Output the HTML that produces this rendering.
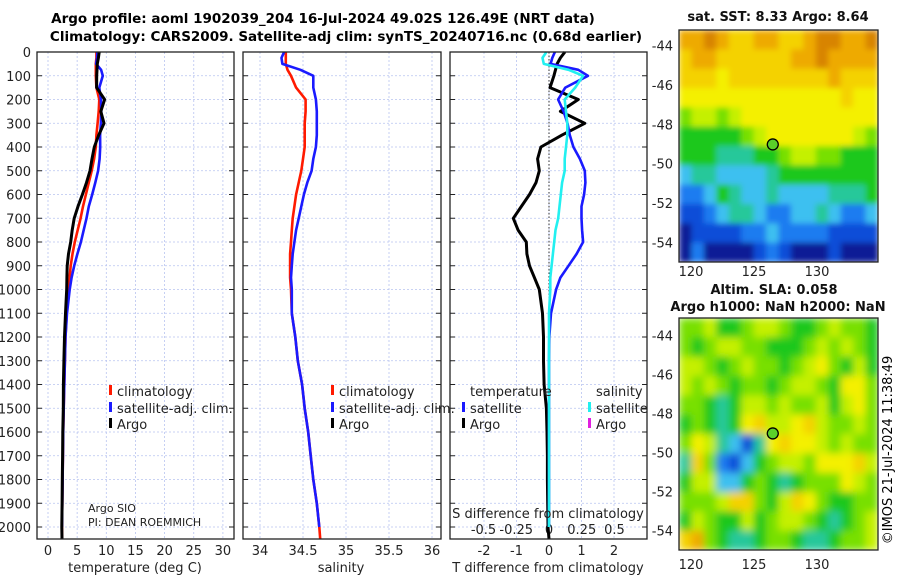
<!DOCTYPE html>
<html><head><meta charset="utf-8"><style>
html,body{margin:0;padding:0;background:#fff;}
svg{display:block;font-family:"DejaVu Sans","Liberation Sans",sans-serif;}
</style></head><body>
<svg id="fig" width="900" height="580" viewBox="0 0 900 580" xmlns="http://www.w3.org/2000/svg">
<defs>
<filter id="blur2" x="0" y="0" width="1" height="1"><feGaussianBlur stdDeviation="4" edgeMode="duplicate"/></filter>
<filter id="blur1" x="0" y="0" width="1" height="1"><feGaussianBlur stdDeviation="3" edgeMode="duplicate"/></filter>
<clipPath id="cm1"><rect x="679" y="30" width="199" height="232"/></clipPath>
<clipPath id="cm2"><rect x="679" y="318" width="199" height="232"/></clipPath>
</defs>
<text x="323" y="23" text-anchor="middle" font-size="13.5" font-weight="bold">Argo profile: aoml 1902039_204 16-Jul-2024 49.02S 126.49E (NRT data)</text>
<text x="346" y="41" text-anchor="middle" font-size="13.5" font-weight="bold">Climatology: CARS2009. Satellite-adj clim: synTS_20240716.nc (0.68d earlier)</text>
<g id="plots"></g>
<g id="maps"></g>
<text transform="translate(892,450) rotate(-90)" text-anchor="middle" font-size="13">©IMOS 21-Jul-2024 11:38:49</text>
</svg>
<script>
const depths=[0,25,50,75,100,150,200,250,300,350,400,450,500,550,600,650,700,750,800,850,900,950,1000,1100,1200,1300,1400,1500,1600,1700,1800,1900,2000,2050];
const tClim=[8.3,8.3,8.2,8.2,8.2,8.3,8.8,8.7,8.5,8.3,8.2,7.9,7.5,7.0,6.5,6.0,5.6,5.1,4.6,4.2,3.9,3.7,3.5,3.2,3.0,2.9,2.8,2.7,2.6,2.55,2.5,2.45,2.4,2.4];
const tSatDiff=[0.18,0.1,0.05,0.9,1.2,0.5,0.28,0.45,0.57,0.64,0.75,0.95,1.1,1.12,1.08,1.0,1.0,1.02,1.05,0.85,0.6,0.35,0.22,0.06,0.01,0,0,0,0,0,0,0,0,null];
const tArgoDiff=[0.49,0.35,0.25,0.2,0.15,0.03,0.9,0.35,1.1,0.4,-0.25,-0.35,-0.3,-0.4,-0.6,-0.85,-1.1,-0.95,-0.7,-0.68,-0.6,-0.45,-0.3,-0.2,-0.17,-0.17,-0.15,-0.08,-0.06,-0.05,-0.05,-0.04,-0.03,0];
const sClim=[34.30,34.30,34.30,34.32,34.36,34.42,34.53,34.53,34.52,34.52,34.52,34.50,34.48,34.45,34.42,34.40,34.38,34.37,34.36,34.35,34.35,34.35,34.36,34.37,34.41,34.44,34.49,34.52,34.56,34.59,34.62,34.66,34.69,34.70];
const sSatDiff=[-0.02,-0.05,-0.04,0.15,0.26,0.2,0.12,0.13,0.14,0.14,0.13,0.12,0.12,0.1,0.09,0.08,0.07,0.05,0.04,0.03,0.02,0.01,0.01,0,0,0,0,0,0,0,0,0,0,null];
const depthTicks=[0,100,200,300,400,500,600,700,800,900,1000,1100,1200,1300,1400,1500,1600,1700,1800,1900,2000];
const tTicks=[0,5,10,15,20,25,30];
const sTicks=[34,34.5,35,35.5,36];
const sTickLabels=["34","34.5","35","35.5","36"];
const dTTicks=[-2,-1,0,1,2];
const dSTicks=[-0.5,-0.25,0,0.25,0.5];
const dSTickLabels=["-0.5","-0.25","0","0.25","0.5"];

const NS="http://www.w3.org/2000/svg";
function mk(tag,attrs,parent){const e=document.createElementNS(NS,tag);for(const k in attrs)e.setAttribute(k,attrs[k]);parent.appendChild(e);return e;}
const plots=document.getElementById('plots');
const Y0=52,Y1=539;
const yD=d=>Y0+d*0.2375;
const xT=t=>48+t*5.83;
const xS=s=>260+(s-34)*86;
const xDT=t=>549+t*32.5;
const xDS=s=>549+s*131;
const panels=[{x0:37,x1:234,name:'temperature-panel'},{x0:243,x1:441,name:'salinity-panel'},{x0:450,x1:647,name:'difference-panel'}];
const xTicksPer=[tTicks.map(xT),sTicks.map(xS),dTTicks.map(xDT)];
panels.forEach((p,i)=>{
  const g=mk('g',{},plots);
  
  
  depthTicks.forEach(d=>{
    const l=mk('line',{x1:p.x0,x2:p.x1,y1:yD(d),y2:yD(d),stroke:'#b8c4f0','stroke-width':0.8,'stroke-dasharray':'2,2'},g);
    
    
    mk('line',{x1:p.x0,x2:p.x0+5,y1:yD(d),y2:yD(d),stroke:'#222'},g);
    mk('line',{x1:p.x1-5,x2:p.x1,y1:yD(d),y2:yD(d),stroke:'#222'},g);
  });
  xTicksPer[i].forEach(x=>{
    const l=mk('line',{x1:x,x2:x,y1:Y0,y2:Y1,stroke:'#b8c4f0','stroke-width':0.8,'stroke-dasharray':'2,2'},g);
    
    
  });
});
depthTicks.forEach(d=>{
  const t=mk('text',{x:31,y:yD(d)+5,'text-anchor':'end','font-size':13,fill:'#222'},plots);
  t.textContent=d;
  
  
});
function tickLabels(vals,labels,fx,y){
  vals.forEach((v,i)=>{
    const t=mk('text',{x:fx(v),y:y,'text-anchor':'middle','font-size':13,fill:'#222'},plots);
    t.textContent=labels[i];
    
    
  });
}
tickLabels(tTicks,tTicks.map(String),xT,555);
tickLabels(sTicks,sTickLabels,xS,555);
tickLabels(dTTicks,dTTicks.map(String),xDT,555);
tickLabels(dSTicks,dSTickLabels,xDS,534);
const zl=mk('line',{x1:xDT(0),x2:xDT(0),y1:Y0,y2:Y1,stroke:'#333','stroke-width':1,'stroke-dasharray':'1.5,2'},plots);



function line(xs,color,name,w){
  let d='';
  xs.forEach((x,i)=>{ if(x==null||isNaN(x))return; d+=(d?'L':'M')+x.toFixed(1)+','+yD(depths[i]).toFixed(1);});
  const p=mk('path',{d:d,fill:'none',stroke:color,'stroke-width':w||2.6,'stroke-linejoin':'round'},plots);
  
  
}
const tSat=tClim.map((v,i)=>tSatDiff[i]==null?null:v+tSatDiff[i]);
const tArgo=tClim.map((v,i)=>v+tArgoDiff[i]);
const sSat=sClim.map((v,i)=>sSatDiff[i]==null?null:v+sSatDiff[i]);
line(tClim.map(xT),'#ff1a00','temperature-climatology-line');
line(tSat.map(v=>v==null?null:xT(v)),'#1a1aff','temperature-satellite-line');
line(tArgo.map(xT),'#000','temperature-argo-line',3);
line(sClim.map(xS),'#ff1a00','salinity-climatology-line');
line(sSat.map(v=>v==null?null:xS(v)),'#1a1aff','salinity-satellite-line');
line(tArgoDiff.map(xDT),'#000','temperature-argo-difference-line',3);
line(tSatDiff.map(v=>v==null?null:xDT(v)),'#1a1aff','temperature-satellite-difference-line');
line(sSatDiff.map(v=>v==null?null:xDS(v)),'#22f0f0','salinity-satellite-difference-line');

panels.forEach(p=>{
  const r=mk('rect',{x:p.x0,y:Y0,width:p.x1-p.x0,height:Y1-Y0,fill:'none',stroke:'#222','stroke-width':1.3},plots);
  
  
});
function txt(x,y,s,name,opt){
  const t=mk('text',Object.assign({x:x,y:y,'font-size':13,fill:'#222'},opt||{}),plots);
  t.textContent=s;
  
  
  return t;
}
function swatch(x,y,c,name){
  const r=mk('rect',{x:x,y:y-11,width:3,height:10,fill:c},plots);
  
  
}
[[109,'p1'],[331,'p2']].forEach(([lx,k])=>{
  swatch(lx,396,'#ff1a00','legend-swatch-climatology');txt(lx+8,396,'climatology','legend-climatology');
  swatch(lx,413,'#1a1aff','legend-swatch-satellite');txt(lx+8,413,'satellite-adj. clim.','legend-satellite-adj-clim');
  swatch(lx,429,'#000','legend-swatch-argo');txt(lx+8,429,'Argo','legend-argo');
});
txt(470,396,'temperature','legend-temperature-header');
txt(596,396,'salinity','legend-salinity-header');
swatch(462,413,'#1a1aff','legend-swatch-t-satellite');txt(470,413,'satellite','legend-t-satellite');
swatch(462,429,'#000','legend-swatch-t-argo');txt(470,429,'Argo','legend-t-argo');
swatch(588,413,'#22f0f0','legend-swatch-s-satellite');txt(596,413,'satellite','legend-s-satellite');
swatch(588,429,'#e020e0','legend-swatch-s-argo');txt(596,429,'Argo','legend-s-argo');
txt(88,512,'Argo SIO','argo-sio-label',{'font-size':11});
txt(88,526,'PI: DEAN ROEMMICH','pi-label',{'font-size':11});
txt(548,518,'S difference from climatology','s-diff-axis-title',{'text-anchor':'middle'});
txt(135,572,'temperature (deg C)','x-axis-title-temperature',{'text-anchor':'middle'});
txt(341,572,'salinity','x-axis-title-salinity',{'text-anchor':'middle'});
txt(548,572,'T difference from climatology','x-axis-title-t-diff',{'text-anchor':'middle'});

const pal={'0':'#0a1e96','1':'#0a4ed8','2':'#1e7cf0','3':'#3cc0f0','4':'#28c89a','5':'#1ec81e','6':'#78e000','7':'#c4f000','8':'#f4f000','9':'#f4d200','a':'#eeaa00','b':'#d88400'};
const sstGrid=["aaba99aa99abbaab","9aa999999aabaaaa","999899999999a999","8888888888888988","6776788888888888","5555567888888876","5554445567766555","3443333455555555","2235433433334445","1123443223343223","0111122322221111","0200001210001000"];
const slaGrid=["6675567765567665","6567766555676765","7765676656786575","7676566567765886","6654577676675786","5654589778976676","6874314898876766","4962135677688897","5773356545666876","6667996579865566","5765575677654567","9a65445665445667"];
const maps=document.getElementById('maps');
function drawMap(grid,x0,y0,w,h,clip,filt,name){
  const g=mk('g',{'clip-path':'url(#'+clip+')'},maps);
  
  
  const inner=mk('g',{filter:'url(#'+filt+')'},g);
  const rows=grid.length,cols=grid[0].length,cw=w/cols,ch=h/rows;
  grid.forEach((row,r)=>{[...row].forEach((c,k)=>{
    mk('rect',{x:x0+k*cw,y:y0+r*ch,width:cw+0.6,height:ch+0.6,fill:pal[c]},inner);
  });});
  mk('rect',{x:x0,y:y0,width:w,height:h,fill:'none',stroke:'#222','stroke-width':1.3},maps);
}
drawMap(sstGrid,679,30,199,232,'cm1','blur1','sst-map');
drawMap(slaGrid,679,318,199,232,'cm2','blur2','sla-map');
const lonTicks=[120,125,130];
const xLon=l=>691+(l-120)*12.6;
const latTicks=[-44,-46,-48,-50,-52,-54];
function mapAxes(top,bottom,lat0,lat1,lblY){
  const yL=l=>top+(lat0-l)/(lat0-lat1)*(bottom-top);
  latTicks.forEach(l=>{
    const t=mk('text',{x:673,y:yL(l)+5,'text-anchor':'end','font-size':13,fill:'#222'},maps);
    t.textContent=l;
    
    
  });
  lonTicks.forEach(l=>{
    const t=mk('text',{x:xLon(l),y:lblY,'text-anchor':'middle','font-size':13,fill:'#222'},maps);
    t.textContent=l;
    
    
  });
  const c=mk('circle',{cx:xLon(126.49),cy:yL(-49.02),r:5.5,fill:'#5ad02a',stroke:'#000','stroke-width':1.3},maps);
  
  
}
mapAxes(30,262,-43.2,-55,276);
mapAxes(318,550,-43.1,-55,569);
function mtxt(x,y,s,name){const t=mk('text',{x:x,y:y,'text-anchor':'middle','font-size':13,'font-weight':'bold',fill:'#111'},maps);t.textContent=s;}
mtxt(778,21,'sat. SST: 8.33 Argo: 8.64','sst-map-title');
mtxt(774,294,'Altim. SLA: 0.058','sla-map-title');
mtxt(778,311,'Argo h1000: NaN h2000: NaN','sla-map-subtitle');
</script>
</body></html>
